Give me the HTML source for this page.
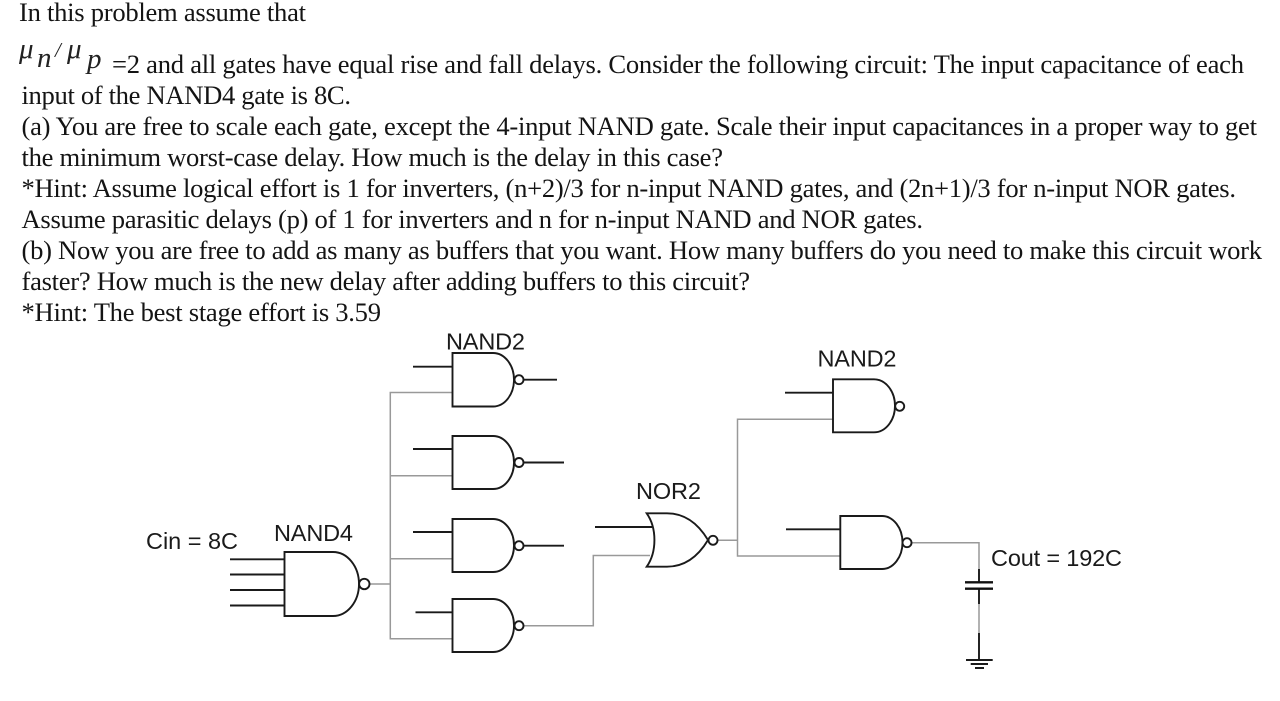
<!DOCTYPE html>
<html lang="en"><head><meta charset="utf-8"><title>Logical effort problem</title>
<style>
html,body{margin:0;padding:0;background:#fff;width:1280px;height:701px;overflow:hidden}
svg{display:block}
.t{font-family:"Liberation Serif",serif;font-size:26.6px;fill:#141414}
.m{font-family:"Liberation Serif",serif;font-style:italic;fill:#222}
.l{font-family:"Liberation Sans",sans-serif;font-size:23.5px;fill:#1a1a1a}
.b{fill:none;stroke:#1a1a1a;stroke-width:1.9}
.g{fill:none;stroke:#999;stroke-width:1.5}
</style></head><body>
<svg width="1280" height="701" viewBox="0 0 1280 701" xmlns="http://www.w3.org/2000/svg">
<text class="t" x="19" y="21" textLength="287" lengthAdjust="spacing">In this problem assume that</text>
<text class="m" x="19" y="58" font-size="29">μ</text>
<text class="m" x="37" y="67" font-size="29">n</text>
<text class="m" x="55" y="57" font-size="21">/</text>
<text class="m" x="67" y="58" font-size="29">μ</text>
<text class="m" x="87" y="68" font-size="29">p</text>
<text class="t" x="112" y="73" textLength="1132" lengthAdjust="spacing">=2 and all gates have equal rise and fall delays. Consider the following circuit: The input capacitance of each</text>
<text class="t" x="21.5" y="104" textLength="329.5" lengthAdjust="spacing">input of the NAND4 gate is 8C.</text>
<text class="t" x="21.5" y="135" textLength="1235.5" lengthAdjust="spacing">(a) You are free to scale each gate, except the 4-input NAND gate. Scale their input capacitances in a proper way to get</text>
<text class="t" x="21.5" y="166" textLength="701.5" lengthAdjust="spacing">the minimum worst-case delay. How much is the delay in this case?</text>
<text class="t" x="21.5" y="197" textLength="1214.5" lengthAdjust="spacing">*Hint: Assume logical effort is 1 for inverters, (n+2)/3 for n-input NAND gates, and (2n+1)/3 for n-input NOR gates.</text>
<text class="t" x="21.5" y="228" textLength="901.5" lengthAdjust="spacing">Assume parasitic delays (p) of 1 for inverters and n for n-input NAND and NOR gates.</text>
<text class="t" x="21.5" y="259" textLength="1240.5" lengthAdjust="spacing">(b) Now you are free to add as many as buffers that you want. How many buffers do you need to make this circuit work</text>
<text class="t" x="21.5" y="290" textLength="728.5" lengthAdjust="spacing">faster? How much is the new delay after adding buffers to this circuit?</text>
<text class="t" x="21.5" y="321" textLength="359.5" lengthAdjust="spacing">*Hint: The best stage effort is 3.59</text>

<text class="l" x="446" y="349.5" textLength="79" lengthAdjust="spacing">NAND2</text>
<text class="l" x="817.5" y="366.5" textLength="79" lengthAdjust="spacing">NAND2</text>
<text class="l" x="636" y="499" textLength="65" lengthAdjust="spacing">NOR2</text>
<text class="l" x="146" y="549" textLength="92" lengthAdjust="spacing">Cin = 8C</text>
<text class="l" x="274" y="541" textLength="79" lengthAdjust="spacing">NAND4</text>
<text class="l" x="991" y="566" textLength="131" lengthAdjust="spacing">Cout = 192C</text>

<!-- grey wires -->
<path class="g" d="M370 584H390.3M452 392.5H390.3V638.7H452M390.3 475.7H452M390.3 558.7H452"/>
<path class="g" d="M524 625.7H593.3V555.5H650"/>
<path class="g" d="M718 540.3H737.5M833 419.3H737.5V556H840.5"/>
<path class="g" d="M912 542.7H979V570M979 604V633"/>

<!-- NAND4 -->
<path class="b" d="M230 559.3H284.5M230 574.5H284.5M230 590H284.5M230 605.5H284.5"/>
<path class="b" d="M284.5 552H333A26 32 0 0 1 333 616H284.5Z"/>
<circle class="b" cx="364.3" cy="584" r="5.2"/>

<!-- left NAND2 column -->
<path class="b" d="M413 366.7H452.5M524 379.7H557"/>
<path class="b" d="M452.5 353H493A21 26.75 0 0 1 493 406.5H452.5Z"/>
<circle class="b" cx="519" cy="379.7" r="4.5"/>

<path class="b" d="M413 449H452.5M524 462.5H564"/>
<path class="b" d="M452.5 436H493A21 26.5 0 0 1 493 489H452.5Z"/>
<circle class="b" cx="519" cy="462.5" r="4.5"/>

<path class="b" d="M413 532H452.5M524 545.7H564"/>
<path class="b" d="M452.5 519H493A21 26.5 0 0 1 493 572H452.5Z"/>
<circle class="b" cx="519" cy="545.7" r="4.5"/>

<path class="b" d="M415.5 612.3H452.5"/>
<path class="b" d="M452.5 599H493A21 26.5 0 0 1 493 652H452.5Z"/>
<circle class="b" cx="519" cy="625.7" r="4.5"/>

<!-- NOR2 -->
<path class="b" d="M595 527H652"/>
<path class="b" d="M646.7 513.3H667C686 513.3 699 525 708 540C699 555 686 566.7 667 566.7H646.7C657 552 657 528 646.7 513.3Z"/>
<circle class="b" cx="713" cy="540.3" r="4.5"/>

<!-- right NAND2s -->
<path class="b" d="M785 392.7H833"/>
<path class="b" d="M833 379.3H874A21 26.5 0 0 1 874 432.3H833Z"/>
<circle class="b" cx="899.7" cy="406.3" r="4.5"/>

<path class="b" d="M786 529.3H840.3"/>
<path class="b" d="M840.3 516H882A20.5 26.5 0 0 1 882 569H840.3Z"/>
<circle class="b" cx="907" cy="542.7" r="4.5"/>

<!-- capacitor and ground -->
<path class="b" d="M979 569V582M979 589V604M979 633V660"/>
<path d="M965 582.3H993M965 588.7H993" fill="none" stroke="#111" stroke-width="2.4"/>
<path class="b" d="M966 660H992.7M970.7 664H988M975 668H984"/>
</svg>
</body></html>
